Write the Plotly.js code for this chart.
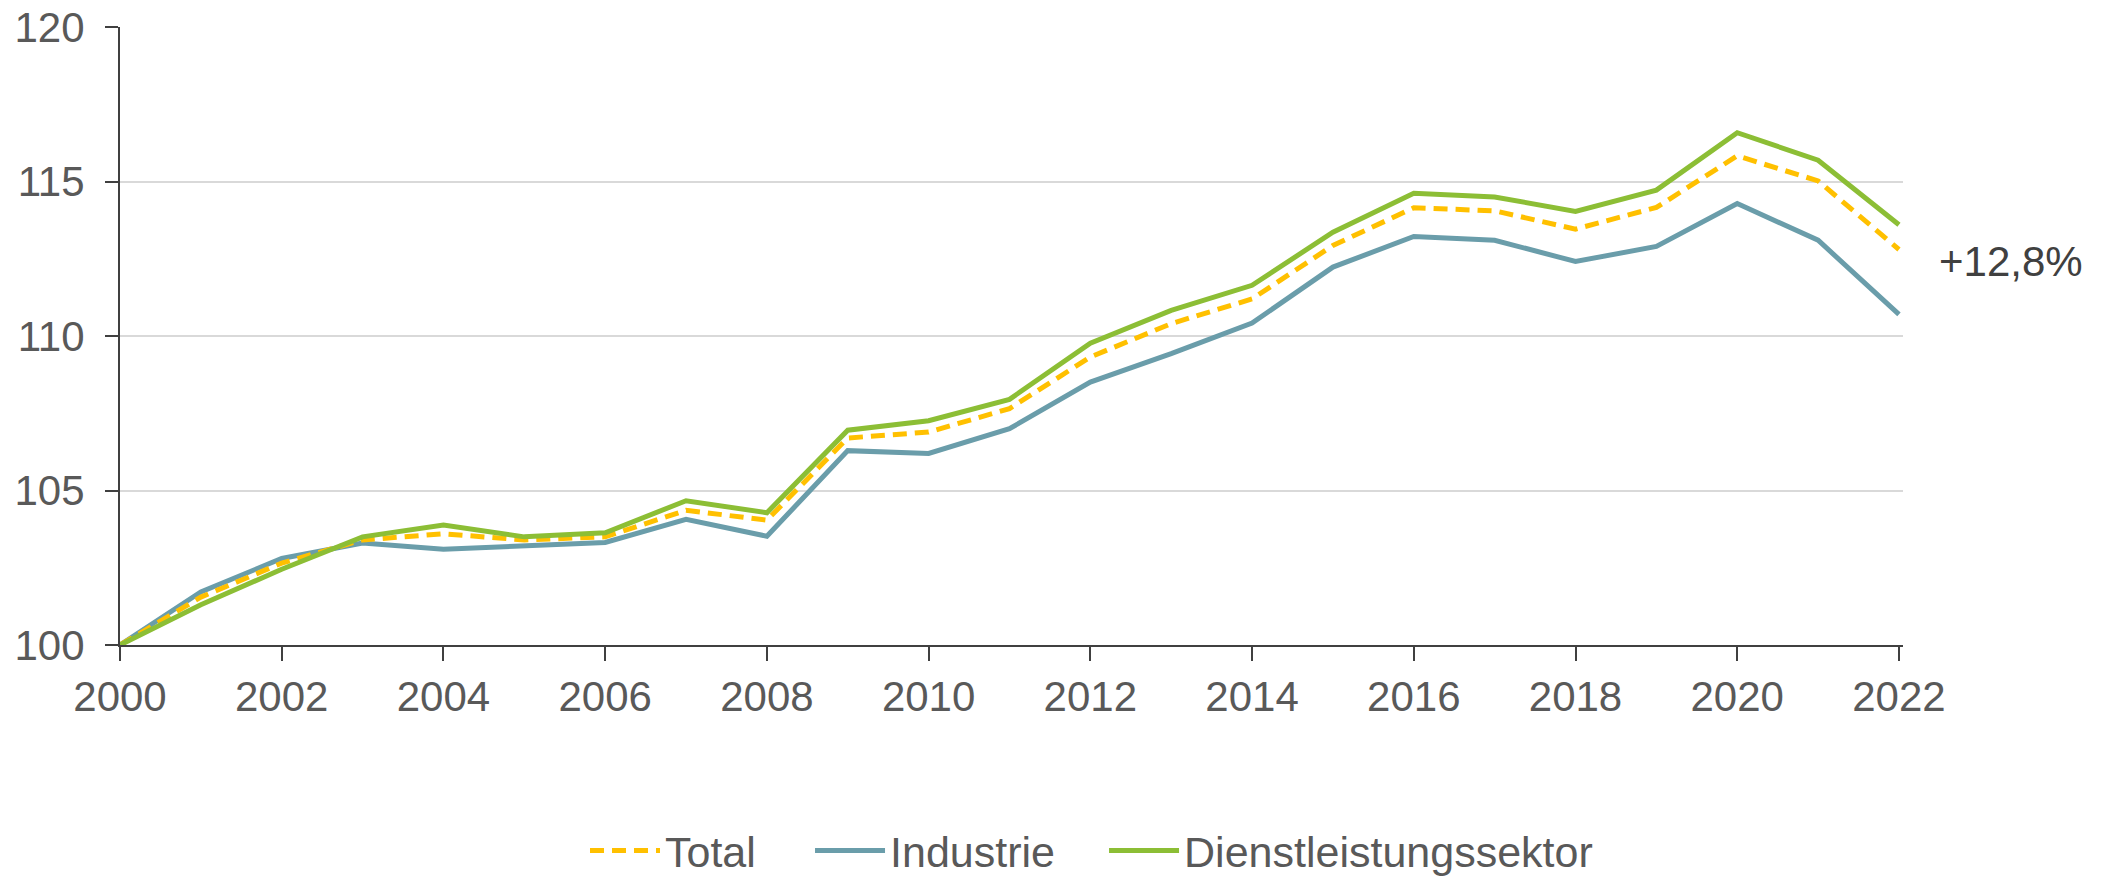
<!DOCTYPE html>
<html>
<head>
<meta charset="utf-8">
<script src="https://cdn.plot.ly/plotly-3.0.1.min.js"></script>
<style>html,body{margin:0;padding:0;background:#fff;}#chart{width:2108px;height:879px;}</style>
</head>
<body>
<div id="chart"></div>
<script>
const years = [2000,2001,2002,2003,2004,2005,2006,2007,2008,2009,2010,2011,2012,2013,2014,2015,2016,2017,2018,2019,2020,2021,2022];
const total = [100,101.55,102.65,103.4,103.6,103.4,103.5,104.36,104.04,106.7,106.89,107.65,109.32,110.4,111.2,112.93,114.15,114.05,113.46,114.16,115.83,115.02,112.8];
const industrie = [100,101.72,102.8,103.3,103.1,103.2,103.32,104.07,103.52,106.29,106.2,107.0,108.51,109.43,110.42,112.23,113.22,113.1,112.41,112.9,114.29,113.1,110.7];
const dienst = [100,101.3,102.45,103.5,103.88,103.5,103.63,104.67,104.28,106.95,107.26,107.95,109.77,110.83,111.64,113.36,114.62,114.5,114.03,114.72,116.58,115.69,113.6];
const seriesNames = ['Total','Industrie','Dienstleistungssektor'];
const annotationText = '+12,8%';
const yTicks = [100,105,110,115,120];

const FONT = 'Liberation Sans, Arial, sans-serif';
const legendFont = {family: FONT, size: 43, color: '#595959'};
const legendBase = {orientation: 'h', xanchor: 'left', y: -0.3325, yanchor: 'middle',
                    font: legendFont, itemwidth: 70, bgcolor: 'rgba(0,0,0,0)', borderwidth: 0};

const traces = [
  {x: years, y: industrie, name: seriesNames[1], type: 'scatter', mode: 'lines',
   line: {color: '#6A9DAA', width: 5}, legend: 'legend2'},
  {x: years, y: total, name: seriesNames[0], type: 'scatter', mode: 'lines',
   line: {color: '#FFC000', width: 5, dash: '14px,8px'}, legend: 'legend'},
  {x: years, y: dienst, name: seriesNames[2], type: 'scatter', mode: 'lines',
   line: {color: '#8CBE35', width: 5}, legend: 'legend3'}
];

const layout = {
  width: 2108, height: 879,
  margin: {l: 120, r: 205, t: 27, b: 234, autoexpand: false},
  paper_bgcolor: '#fff', plot_bgcolor: '#fff',
  font: {family: FONT, size: 42, color: '#595959'},
  showlegend: true,
  legend: Object.assign({}, legendBase, {x: 0.2608}),
  legend2: Object.assign({}, legendBase, {x: 0.387}),
  legend3: Object.assign({}, legendBase, {x: 0.5519}),
  xaxis: {range: [2000, 2022.05], tickmode: 'linear', tick0: 2000, dtick: 2,
          showgrid: false, zeroline: false, showline: true, linecolor: '#404040', linewidth: 2,
          ticks: 'outside', ticklen: 14, tickwidth: 2, tickcolor: '#404040',
          automargin: false,
          tickfont: {family: FONT, size: 42, color: '#595959'}},
  yaxis: {range: [100, 120], tickmode: 'array', tickvals: yTicks,
          showgrid: true, gridcolor: '#D9D9D9', gridwidth: 2, zeroline: false,
          showline: true, linecolor: '#404040', linewidth: 2,
          ticks: 'outside', ticklen: 13, tickwidth: 2, tickcolor: '#404040',
          ticklabelstandoff: 12, automargin: false,
          tickfont: {family: FONT, size: 42, color: '#595959'}},
  annotations: [
    {xref: 'paper', yref: 'paper', x: 1.019, y: 0.62, xanchor: 'left', yanchor: 'middle',
     text: annotationText, showarrow: false, font: {family: FONT, size: 42, color: '#404040'}}
  ]
};

Plotly.newPlot('chart', traces, layout, {displayModeBar: false, staticPlot: true});
</script>
</body>
</html>
